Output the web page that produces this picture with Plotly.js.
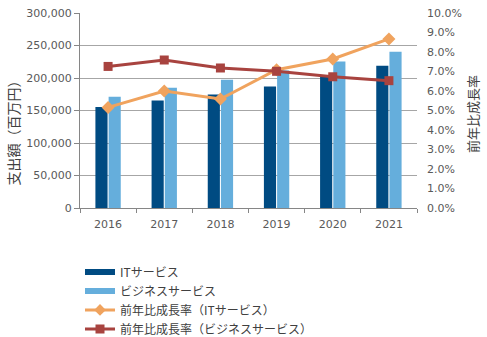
<!DOCTYPE html>
<html><head><meta charset="utf-8">
<script src="https://cdn.plot.ly/plotly-3.0.1.min.js"></script>
<style>html,body{margin:0;padding:0;background:#fff}#chart{width:487px;height:337px}</style>
</head><body><div id="chart"></div>
<script>
var years = ['2016','2017','2018','2019','2020','2021'];
var itSpend = [155500, 165500, 174500, 187000, 202500, 219000];
var bizSpend = [171000, 185000, 197500, 211500, 225500, 240500];
var itGrowth = [0.0516, 0.060, 0.0559, 0.0709, 0.0764, 0.0867];
var bizGrowth = [0.0726, 0.0759, 0.0718, 0.0701, 0.0673, 0.0653];
var names = ['ITサービス','ビジネスサービス','前年比成長率（ITサービス）','前年比成長率（ビジネスサービス）'];
var leftTitle = '支出額（百万円）';
var rightTitle = '前年比成長率';

var jp = '"Noto Sans CJK JP", "Noto Sans", sans-serif';
var tickFont = {family: '"DejaVu Sans", Verdana, sans-serif', size: 11, color: '#595959'};
var cIT = '#004B82', cBiz = '#65AEDC', cITg = '#F0A35E', cBizg = '#A8433F';

var traces = [
  {type:'bar', name:names[0], x:years, y:itSpend, marker:{color:cIT}, yaxis:'y', showlegend:false, legendgroup:'a'},
  {type:'bar', name:names[1], x:years, y:bizSpend, marker:{color:cBiz}, yaxis:'y', showlegend:false, legendgroup:'b'},
  {type:'scatter', mode:'lines+markers', name:names[2], x:years, y:itGrowth, yaxis:'y2', showlegend:false, legendgroup:'c',
   line:{color:cITg, width:3}, marker:{symbol:'diamond', size:10, color:cITg}},
  {type:'scatter', mode:'lines+markers', name:names[3], x:years, y:bizGrowth, yaxis:'y2', showlegend:false, legendgroup:'d',
   line:{color:cBizg, width:3}, marker:{symbol:'square', size:9, color:cBizg}},
  // legend entries
  {type:'scatter', mode:'lines', name:names[0], x:[null], y:[null], legendgroup:'a', line:{color:cIT, width:6}, hoverinfo:'skip'},
  {type:'scatter', mode:'lines', name:names[1], x:[null], y:[null], legendgroup:'b', line:{color:cBiz, width:6}, hoverinfo:'skip'},
  {type:'scatter', mode:'lines+markers', name:names[2], x:[null], y:[null], legendgroup:'c', yaxis:'y2',
   line:{color:cITg, width:3}, marker:{symbol:'diamond', size:9, color:cITg}},
  {type:'scatter', mode:'lines+markers', name:names[3], x:[null], y:[null], legendgroup:'d', yaxis:'y2',
   line:{color:cBizg, width:3}, marker:{symbol:'square', size:9, color:cBizg}}
];

var layout = {
  width:487, height:337,
  margin:{l:80, r:70, t:13, b:129},
  paper_bgcolor:'#fff', plot_bgcolor:'#fff',
  barmode:'group', bargap:0.53, bargroupgap:0.08,
  showlegend:true,
  legend:{x:0.0, xanchor:'left', y:0.236, yref:'container', yanchor:'top', orientation:'v',
    font:{family:jp, size:12, color:'#404040'}, tracegroupgap:0, itemwidth:30,
    bgcolor:'rgba(0,0,0,0)'},
  xaxis:{type:'category', tickfont:tickFont, showline:true, linecolor:'#868686', linewidth:1,
    ticks:'outside', tickson:'boundaries', ticklen:4, tickcolor:'#868686', showgrid:false, zeroline:false,
    ticklabelstandoff:6},
  yaxis:{range:[0,300000], dtick:50000, tickformat:',d', tickfont:tickFont,
    showline:true, linecolor:'#868686', ticks:'outside', ticklen:5, tickcolor:'#868686',
    gridcolor:'#A6A6A6', gridwidth:1, zeroline:false},
  yaxis2:{range:[0,0.10], dtick:0.01, tickformat:'.1%', overlaying:'y', side:'right',
    tickfont:tickFont, showgrid:false, zeroline:false, showline:false, ticks:'', ticklabelstandoff:9},
  annotations:[
    {text:leftTitle, xref:'paper', yref:'paper', x:-0.2, y:0.40, xanchor:'center', yanchor:'middle',
     textangle:-90, showarrow:false, font:{family:jp, size:14, color:'#404040'}},
    {text:rightTitle, xref:'paper', yref:'paper', x:1.163, y:0.482, xanchor:'center', yanchor:'middle',
     textangle:-90, showarrow:false, font:{family:jp, size:13, color:'#404040'}}
  ]
};

Plotly.newPlot('chart', traces, layout, {displayModeBar:false, staticPlot:true});
</script></body></html>
